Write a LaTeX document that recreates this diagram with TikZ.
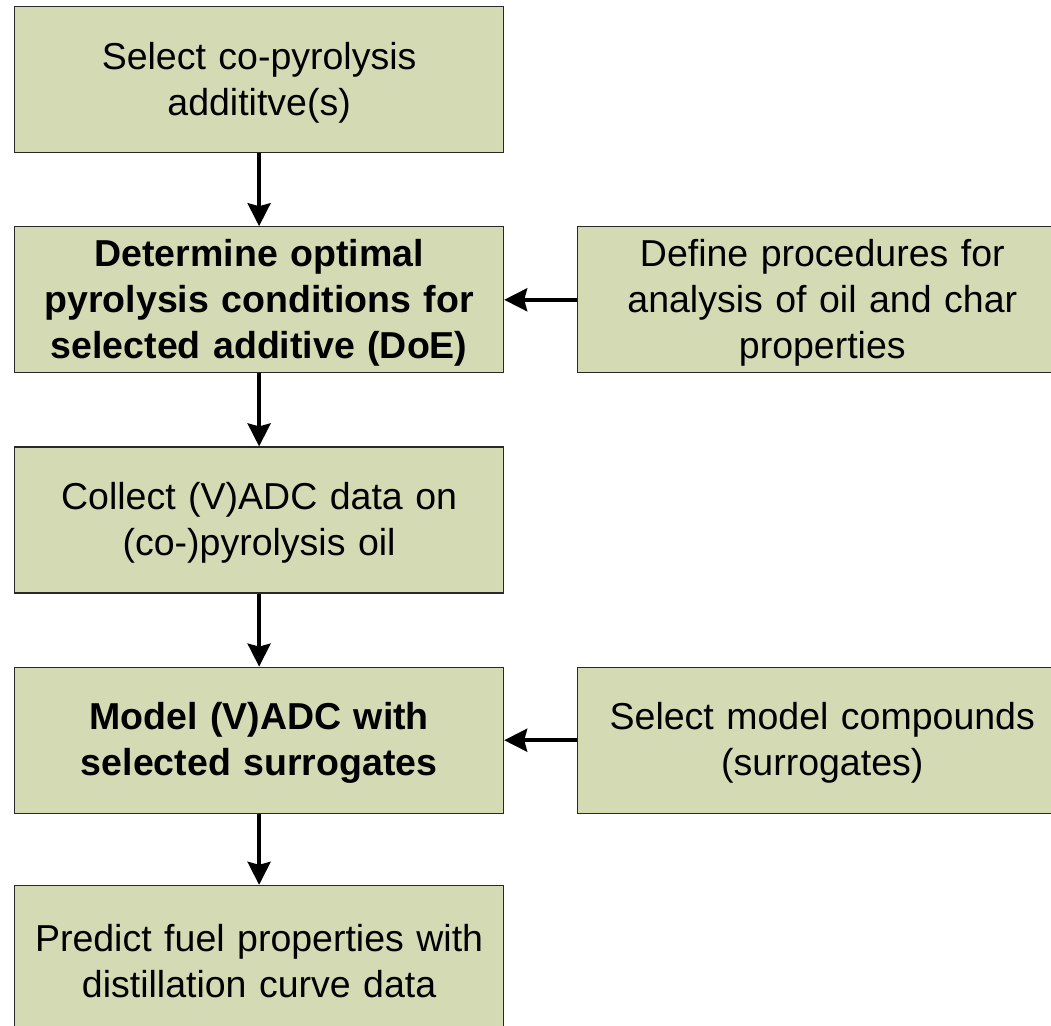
\documentclass[tikz,border=0pt]{standalone}
\usepackage{fontspec}
\setmainfont{Liberation Sans}
\usetikzlibrary{arrows.meta, positioning}

\definecolor{boxfill}{RGB}{212,219,180}
\definecolor{boxline}{RGB}{40,40,40}

\begin{document}
\begin{tikzpicture}[
  x=1pt, y=1pt,
  node distance = 73pt and 73pt,
  stepbox/.style = {draw=boxline, line width=1.2pt, rectangle,
                    fill=boxfill,
                    minimum height=146pt, minimum width=489pt,
                    text width=480pt, inner sep=0pt,
                    execute at begin node={\rule{0pt}{33pt}},
                    align=center, font=\fontsize{37.5}{46}\selectfont},
  arr/.style     = {-{Stealth[length=23pt, width=23pt, inset=3pt]}, line width=3.5pt}
]
\useasboundingbox (0,0) rectangle (1051,-1025);

%── Main column ────────────────────────────────────────────────
\node[stepbox, anchor=north west] (additive) at (14,-6)
  {Select co-pyrolysis\\addititve(s)};

\node[stepbox, below=of additive] (optimal)
  {\textbf{Determine optimal}\\
   \textbf{pyrolysis conditions for}\\
   \textbf{selected additive (DoE)}};

\node[stepbox, below=of optimal] (collect)
  {Collect (V)ADC data on\\(co-)pyrolysis oil};

\node[stepbox, below=of collect] (model)
  {\textbf{Model (V)ADC with}\\
   \textbf{selected surrogates}};

\node[stepbox, below=71pt of model] (predict)
  {Predict fuel properties with\\distillation curve data};

%── Side inputs ────────────────────────────────────────────────
\node[stepbox, right=of optimal] (procedures)
  {Define procedures for\\analysis of oil and char\\properties};

\node[stepbox, right=of model] (compounds)
  {Select model compounds\\(surrogates)};

%── Arrows ─────────────────────────────────────────────────────
\draw[arr] (additive) -- (optimal);
\draw[arr] (optimal) -- (collect);
\draw[arr] (collect) -- (model);
\draw[arr] (model) -- (predict);

\draw[arr] (procedures) -- (optimal);
\draw[arr] (compounds) -- (model);

\end{tikzpicture}
\end{document}
